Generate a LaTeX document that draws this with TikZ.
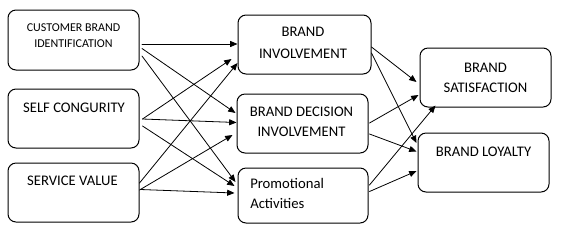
\documentclass[tikz,border=0pt]{standalone}
\usepackage{fontspec}
\setmainfont{Carlito}
\usetikzlibrary{arrows.meta,calc}

\begin{document}
\begin{tikzpicture}[x=0.75pt,y=-0.75pt,line cap=round,line join=round,
  box/.style={draw,line width=0.75pt,rounded corners=6pt,minimum width=98.25pt,minimum height=44.25pt,inner sep=0pt},
  lbl/.style={inner sep=0pt,anchor=base,align=center,font=\fontsize{11}{15}\selectfont},
  arr/.style={line width=0.6pt,-{Triangle[length=5.5pt,width=4.5pt]}}]

\useasboundingbox (0,0) rectangle (566,237);

% boxes
\node[box,minimum height=45pt] (cbi) at (73.5,40) {};
\node[box] (sc) at (73.5,118.5) {};
\node[box] (sv) at (73.5,192.5) {};
\node[box,minimum width=99.75pt] (bi) at (304.5,44.5) {};
\node[box] (bdi) at (302.5,123.5) {};
\node[box,minimum width=97.5pt,minimum height=41.25pt] (pa) at (303,195.5) {};
\node[box] (bs) at (485.5,77.5) {};
\node[box] (bl) at (483.5,162.5) {};

% labels (base = last line)
\node[lbl,font=\fontsize{9}{12}\selectfont] (cbi-t) at (73.5,47) {CUSTOMER BRAND\\IDENTIFICATION};
\node[lbl] (sc-t) at (74,112) {SELF CONGURITY};
\node[lbl] (sv-t) at (72.5,185) {SERVICE VALUE};
\node[lbl,font=\fontsize{11}{16}\selectfont] (bi-t) at (303,58) {BRAND\\INVOLVEMENT};
\node[lbl] (bdi-t) at (301.5,136.5) {BRAND DECISION\\INVOLVEMENT};
\node[lbl,align=left,anchor=base west] (pa-t) at (250,208) {Promotional\\Activities};
\node[lbl] (bs-t) at (485.5,92) {BRAND\\SATISFACTION};
\node[lbl] (bl-t) at (483.5,156) {BRAND LOYALTY};

% arrows left -> middle
\draw[arr] ($(cbi.east)+(2.5,4)$) -- ($(bi.west)+(0,-0.5)$);
\draw[arr] ($(cbi.east)+(2.5,8.5)$) -- ($(bdi.west)+(-1,-10.5)$);
\draw[arr] ($(cbi.east)+(2.5,16)$) -- ($(pa.west)+(-2,-13.5)$);
\draw[arr] ($(sc.east)+(3,0.5)$) -- ($(bi.west)+(-6,14.5)$);
\draw[arr] ($(sc.east)+(3,0.5)$) -- ($(bdi.west)+(0,-1)$);
\draw[arr] ($(sc.east)+(3,7.5)$) -- ($(pa.west)+(-3,-9.5)$);
\draw[arr] ($(sv.east)+(0,-9.5)$) -- ($(bi.west)+(0,18.5)$);
\draw[arr] ($(sv.east)+(0,-2.5)$) -- ($(bdi.west)+(-4,11.5)$);
\draw[arr] ($(sv.east)+(1,-3)$) -- ($(pa.west)+(-3,-2.5)$);

% arrows middle -> right
\draw[arr] ($(bi.east)+(0,2.5)$) -- ($(bs.west)+(-3,4.5)$);
\draw[arr] ($(bi.east)+(0,8.5)$) -- ($(bl.west)+(-1,-19.5)$);
\draw[arr] ($(bdi.east)+(1,-0.5)$) -- ($(bs.west)+(-1,17.5)$);
\draw[arr] ($(bdi.east)+(1,10.5)$) -- ($(bl.west)+(-1,-11)$);
\draw[arr] ($(pa.east)+(1,-10.5)$) -- ($(bs.south west)+(16,-2)$);
\draw[arr] ($(pa.east)+(1,-4)$) -- ($(bl.west)+(-1,8.5)$);

\end{tikzpicture}
\end{document}
